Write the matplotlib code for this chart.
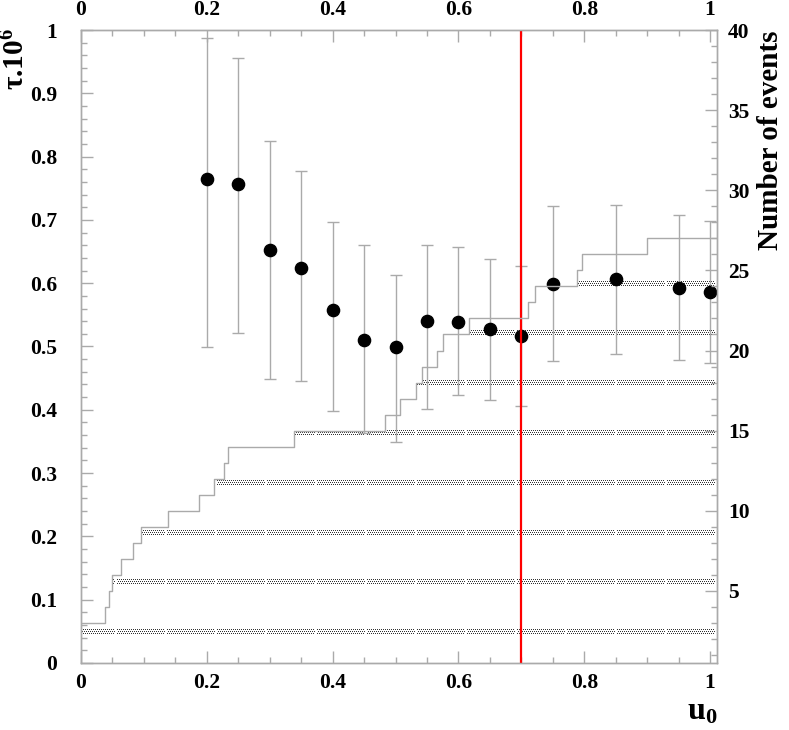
import numpy as np
import matplotlib
matplotlib.use("Agg")
import matplotlib.pyplot as plt
from matplotlib.ticker import MultipleLocator, FuncFormatter

# measured points: u0, tau*1e6 and the ends of the error bars
u0 = [0.2, 0.25, 0.3, 0.35, 0.4, 0.45, 0.5, 0.55, 0.6, 0.65, 0.7, 0.75, 0.85, 0.95, 1.0]
tau = [0.765, 0.756, 0.652, 0.624, 0.558, 0.510, 0.500, 0.541, 0.539, 0.527, 0.517, 0.599, 0.606, 0.592, 0.586]
tau_lo = [0.499, 0.522, 0.449, 0.445, 0.398, 0.364, 0.349, 0.402, 0.423, 0.415, 0.406, 0.477, 0.488, 0.478, 0.474]
tau_hi = [0.987, 0.955, 0.824, 0.777, 0.696, 0.660, 0.613, 0.660, 0.657, 0.639, 0.627, 0.722, 0.724, 0.707, 0.698]

# cumulative number of events vs u0 (step histogram, right axis)
hist_x = [0.0, 0.038, 0.045, 0.049, 0.063, 0.082, 0.096, 0.138, 0.1875, 0.212, 0.227, 0.234,
          0.339, 0.483, 0.507, 0.533, 0.542, 0.566, 0.575, 0.617, 0.710, 0.721, 0.788, 0.797, 0.899]
hist_n = [3, 4, 5, 6, 7, 8, 9, 10, 11, 12, 13, 14, 15, 16, 17, 18, 19, 20, 21, 22, 23, 24, 25, 26, 27]

u_cut = 0.7

plt.rcParams['font.family'] = ['Liberation Serif', 'DejaVu Serif']
plt.rcParams['font.weight'] = 'bold'
plt.rcParams['mathtext.fontset'] = 'custom'
plt.rcParams['mathtext.rm'] = 'Liberation Serif:bold'
plt.rcParams['mathtext.it'] = 'Liberation Serif:bold'
plt.rcParams['mathtext.bf'] = 'Liberation Serif:bold'

grey = '#aaaaaa'
xmax = 1.011

fig = plt.figure(figsize=(7.89, 7.30), dpi=100)
ax = fig.add_axes([81 / 789, 67 / 730, 636 / 789, 633 / 730])
ax2 = ax.twinx()

# histogram of events
xs = hist_x + [xmax]
ns = hist_n + [hist_n[-1]]
ax2.step(xs, ns, where='post', color=grey, lw=1)
fill = ax2.fill_between(xs, 0.5, ns, step='post', facecolor='none', edgecolor='none')
clip = fill.get_paths()[0]

# ROOT-like dotted fill pattern, one texel per screen pixel, clipped to the histogram
H, W = 633, 636
tex = np.zeros((H, W, 4))
tex[..., :3] = 0.2
cols = np.arange(W)
for c in np.arange(31, H, 49.75).round().astype(int):
    for k, dr in enumerate((-2, 0, 2)):
        r = c + dr
        if 0 <= r < H:
            on = ((cols + k) % 2 == 0) & ((cols - 34) % 50 > 1)
            tex[r, on, 3] = 1.0
im = ax.imshow(tex, extent=[0, xmax, 0, 1], aspect='auto', interpolation='nearest',
               origin='lower', zorder=1)
im.set_clip_path(clip, ax2.transData)

ax.set_xlim(0, xmax)
ax.set_ylim(0, 1)
ax2.set_ylim(0.5, 40)

# measurements
tau_a = np.array(tau)
yerr = [tau_a - np.array(tau_lo), np.array(tau_hi) - tau_a]
ax.errorbar(u0, tau, yerr=yerr, fmt='o', color='black', ms=8.8,
            ecolor=grey, elinewidth=1, capsize=4.4, capthick=1, zorder=5)

ax.axvline(u_cut, color='red', lw=1.6, zorder=6)

fmt = FuncFormatter(lambda v, p: '%g' % round(v, 3))
ax.xaxis.set_major_locator(MultipleLocator(0.2))
ax.xaxis.set_minor_locator(MultipleLocator(0.05))
ax.yaxis.set_major_locator(MultipleLocator(0.1))
ax.yaxis.set_minor_locator(MultipleLocator(0.02))
ax.xaxis.set_major_formatter(fmt)
ax.yaxis.set_major_formatter(fmt)
ax2.yaxis.set_major_locator(MultipleLocator(5))
ax2.yaxis.set_minor_locator(MultipleLocator(1))

ax.tick_params(axis='x', which='both', direction='in', top=True, labeltop=True,
               color=grey, labelsize=15.5, pad=7)
ax.tick_params(axis='y', which='both', direction='in', right=False,
               color=grey, labelsize=15.5, pad=17)
ax2.tick_params(axis='y', which='both', direction='in', color=grey, labelsize=15.5, pad=8)
for a in (ax, ax2):
    a.tick_params(which='major', length=8.5, width=1)
    a.tick_params(which='minor', length=4.3, width=1)
    for s in a.spines.values():
        s.set_color(grey)
        s.set_linewidth(1)

fig.text(770 / 789, 1 - 30 / 730, 'Number of events', rotation=90,
         ha='center', va='top', fontsize=21, fontweight='bold')
fig.text(16 / 789, 1 - 28 / 730, r'τ.10$^{6}$', rotation=90,
         ha='center', va='top', fontsize=21, fontweight='bold')
fig.text(717 / 789, 1 - 712 / 730, r'u$_{0}$', ha='right', va='center',
         fontsize=23, fontweight='bold')

fig.savefig('out.png', dpi=100)
